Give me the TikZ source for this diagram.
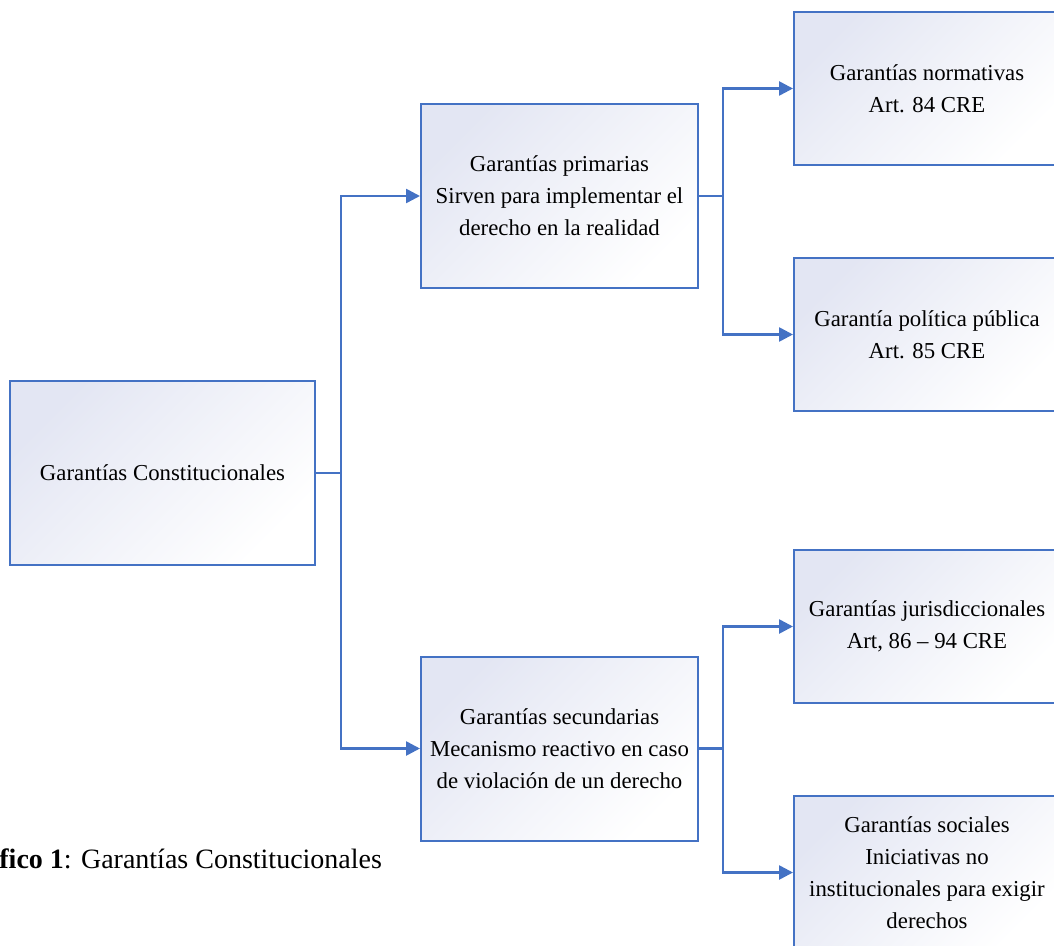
\documentclass[tikz,border=0pt]{standalone}
\usepackage{fontspec}
\setmainfont{Liberation Serif}
\usetikzlibrary{arrows.meta,positioning}
\definecolor{b}{HTML}{4472C4}
\definecolor{f}{HTML}{E3E6F3}
\tikzset{gb/.style={rectangle, draw=b, line width=1pt, top color=f, bottom color=white,
            shading angle=45, align=center, inner sep=0pt, minimum height=#1,
            font=\fontsize{11.4}{16}\selectfont},
         ln/.style={draw=b, line width=1.3pt},
         ar/.style={ln, -{Triangle[length=7pt,width=7pt]}}}

\begin{document}
\begin{tikzpicture}[x=0.5pt, y=-0.5pt]
\clip (0,0) rectangle (1054,946);
 \node[gb=92pt, minimum width=152.5pt] (gc) at (162.5,473) {Garantías Constitucionales};
 \node[gb=92pt, minimum width=138.5pt] (gp) at (559.5,196)
    {Garantías primarias\\ Sirven para implementar el\\ derecho en la realidad};
 \node[gb=92pt, minimum width=138.5pt] (gs) at (559.5,748.5)
    {Garantías secundarias\\ Mecanismo reactivo en caso\\ de violación de un derecho};
 \node[gb=76.5pt, minimum width=133pt] (gn) at (927,88.5) {Garantías normativas\\ Art. 84 CRE};
 \node[gb=76.5pt, minimum width=133pt] (gpp) at (927,334.5) {Garantía política pública\\ Art. 85 CRE};
 \node[gb=76.5pt, minimum width=133pt] (gj) at (927,626.5) {Garantías jurisdiccionales\\ Art, 86 -- 94 CRE};
 \node[gb=76.5pt, minimum width=133pt] (gso) at (927,872.5)
    {Garantías sociales\\ Iniciativas no\\ institucionales para exigir\\ derechos};

 \draw[ln] (gc.east) -- ++(25,0) coordinate (j0);
 \draw[ar] (j0) |- (gp.west);
 \draw[ar] (j0) |- (gs.west);
 \draw[ln] (gp.east) -- ++(24,0) coordinate (j1);
 \draw[ar] (j1) |- (gn.west);
 \draw[ar] (j1) |- (gpp.west);
 \draw[ln] (gs.east) -- ++(24,0) coordinate (j2);
 \draw[ar] (j2) |- (gj.west);
 \draw[ar] (j2) |- (gso.west);

 \node[anchor=base west, inner sep=0pt, font=\fontsize{14}{17}\selectfont] (cap) at (-1,868)
    {\textbf{fico 1}: Garantías Constitucionales};
\end{tikzpicture}
\end{document}
